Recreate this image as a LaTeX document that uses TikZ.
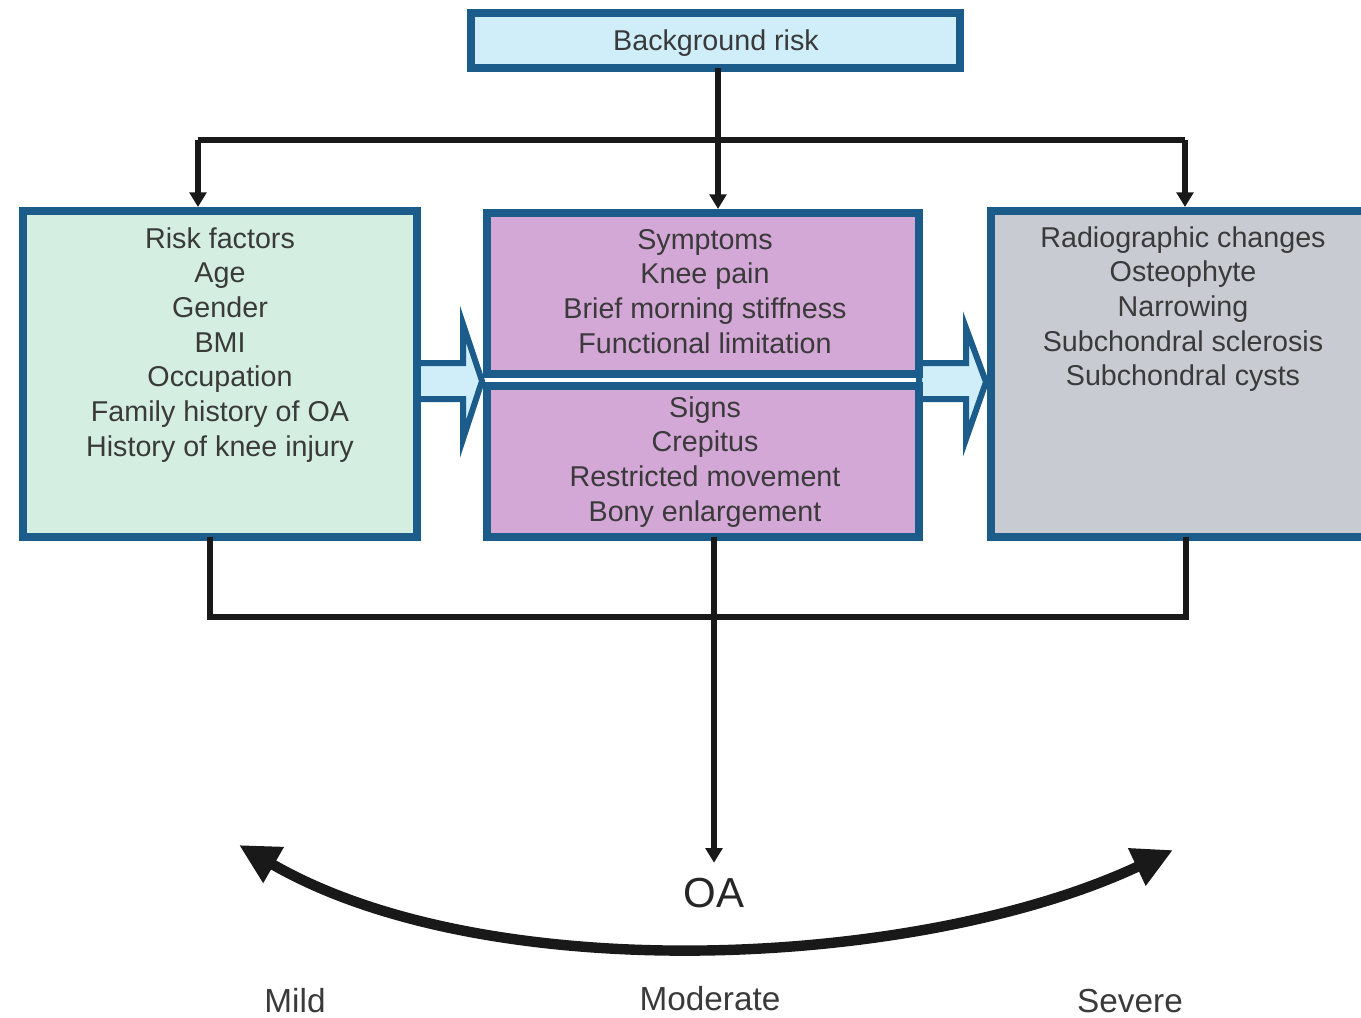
\documentclass[tikz,border=0pt]{standalone}
\usepackage{fontspec}
\setmainfont{Liberation Sans}
\usetikzlibrary{arrows.meta}
\definecolor{bdr}{HTML}{1C5C8A}
\definecolor{lblue}{HTML}{CFEEFA}
\definecolor{lgreen}{HTML}{D4EFE2}
\definecolor{lpurple}{HTML}{D3A7D6}
\definecolor{lgray}{HTML}{C8CBD2}
\definecolor{txt}{HTML}{3A3A3A}
\begin{document}
\begin{tikzpicture}[x=0.75pt,y=-0.75pt,
  box/.style={draw=bdr,line width=5.8pt,rectangle,outer sep=0pt,inner sep=0pt},
  boxtext/.style={anchor=north,align=center,inner sep=0pt,text=txt,font=\fontsize{21.5}{26}\selectfont},
  conn/.style={draw=black!90,line width=4.2pt},
  arr/.style={conn,-{Triangle[length=11pt,width=12.5pt]}},
  blockarr/.style={draw=bdr,fill=lblue,line width=4.5pt,miter limit=20},
  bigarr/.style={draw=black!90,line width=7.8pt,{Triangle[length=30pt,width=29pt]}-{Triangle[length=30pt,width=29pt]}},
  lab/.style={anchor=base,text=txt,font=\fontsize{25}{30}\selectfont}]
\useasboundingbox (0,0) rectangle (1361,1018);

% block arrows
\path[blockarr] (417,363) -- (463,363) -- (463,324) -- (482,381) -- (463,439) -- (463,399) -- (417,399) -- cycle;
\path[blockarr] (919,363) -- (966,363) -- (966,328) -- (986,382) -- (966,439) -- (966,399) -- (919,399) -- cycle;

% boxes
\node[box,fill=lblue,minimum width=366.75pt,minimum height=41.25pt] (bg) at (715.5,40.5) {};
\node[box,fill=lgreen,minimum width=295.5pt,minimum height=244.5pt] (rf) at (220,374) {};
\node[box,fill=lpurple,minimum width=324pt,minimum height=120.75pt] (sym) at (703,293.5) {};
\node[box,fill=lpurple,minimum width=324pt,minimum height=113.25pt] (sig) at (703,461.5) {};
\node[box,fill=lgray,minimum width=291.75pt,minimum height=244.5pt] (rad) at (1185.5,374) {};

% texts
\node[anchor=base,text=txt,inner sep=0pt,font=\fontsize{21.5}{26}\selectfont] (bgt) at (716,50) {Background risk};
\node[boxtext] (rft) at (220,227) {Risk factors\\Age\\Gender\\BMI\\Occupation\\Family history of OA\\History of knee injury};
\node[boxtext] (symt) at (705,229) {Symptoms\\Knee pain\\Brief morning stiffness\\Functional limitation};
\node[boxtext] (sigt) at (705,396) {Signs\\Crepitus\\Restricted movement\\Bony enlargement};
\node[boxtext] (radt) at (1183,226) {Radiographic changes\\Osteophyte\\Narrowing\\Subchondral sclerosis\\Subchondral cysts};

% top connectors
\coordinate (tj) at (718,140);
\coordinate (tl) at (198,140);
\coordinate (tr) at (1185,140);
\draw[conn] (bg.south -| tj) -- (tj);
\draw[conn] (tl) -- (tr);
\draw[arr,shorten >=3pt] (tj) -- (tj |- sym.north);
\draw[arr,shorten >=3pt] (tl) -- (tl |- rf.north);
\draw[arr,shorten >=3pt] (tr) -- (tr |- rad.north);

% bottom connectors
\coordinate (bl) at (210,617);
\coordinate (br) at (1186,617);
\draw[conn] (rf.south -| bl) -- (bl) -- (br) -- (rad.south -| br);

% OA
\node[anchor=base,inner sep=0pt,text=black!85,font=\fontsize{31.5}{36}\selectfont] (oa) at (714,907) {OA};
\draw[arr,shorten >=11pt] (sig.south -| oa) -- (oa.north);

% severity curve
\coordinate (cl) at (239,845);
\coordinate (cr) at (1173,850);
\draw[bigarr] (cl) .. controls (490,990) and (922,968) .. (cr);

\node[lab] (mild) at (295,1012) {Mild};
\node[lab] (mod) at (710,1010) {Moderate};
\node[lab] (sev) at (1130,1012) {Severe};
\end{tikzpicture}
\end{document}
